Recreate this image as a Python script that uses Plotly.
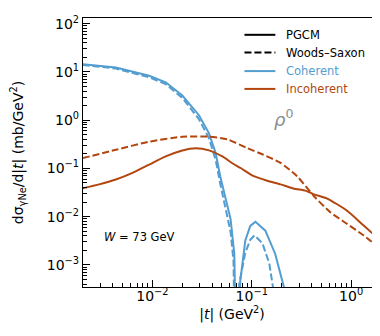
import numpy as np
import plotly.graph_objects as go

# |t| in GeV^2, dsigma/d|t| in mb/GeV^2
t_coh_pgcm = [0.00198, 0.00428, 0.00927, 0.0136, 0.02, 0.0294, 0.0371, 0.0433, 0.0482, 0.0612, 0.0667, 0.0714,
              0.0766, 0.0861, 0.0966, 0.109, 0.137, 0.172, 0.212, 0.244]
s_coh_pgcm = [14.5, 12.4, 8.36, 6.1, 3.25, 1.27, 0.534, 0.208, 0.068, 0.0089, 0.0017, 1e-6,
              4.6e-4, 0.0032, 0.0064, 0.0078, 0.0051, 0.0017, 3.3e-4, 1e-6]

t_coh_ws = [0.00198, 0.00428, 0.00927, 0.0136, 0.02, 0.0294, 0.0371, 0.0433, 0.0482, 0.0612, 0.0655, 0.0687,
            0.0748, 0.0861, 0.0966, 0.1067, 0.128, 0.150, 0.164, 0.180]
s_coh_ws = [14.0, 11.8, 7.8, 5.6, 2.9, 1.05, 0.42, 0.15, 0.048, 0.0048, 0.0012, 1e-6,
            4e-4, 0.0018, 0.0033, 0.0041, 0.0028, 0.00107, 3.3e-4, 1e-6]

t_inc_pgcm = [0.00198, 0.00291, 0.00428, 0.0063, 0.00927, 0.0136, 0.02, 0.0272, 0.0371, 0.0506, 0.0637, 0.0771,
              0.105, 0.143, 0.195, 0.265, 0.347, 0.421, 0.574, 0.912, 1.34, 1.97]
s_inc_pgcm = [0.0386, 0.0466, 0.0589, 0.0809, 0.120, 0.177, 0.235, 0.263, 0.237, 0.177, 0.128, 0.102,
              0.0689, 0.0555, 0.0466, 0.038, 0.0346, 0.029, 0.0237, 0.0132, 0.00651, 0.0032]

t_inc_ws = [0.00198, 0.00428, 0.00927, 0.02, 0.0371, 0.0567, 0.0902, 0.131, 0.195, 0.286, 0.421, 0.62,
            0.912, 1.34, 1.97]
s_inc_ws = [0.163, 0.243, 0.359, 0.455, 0.455, 0.402, 0.263, 0.192, 0.130, 0.0689, 0.0268, 0.01225,
            0.00705, 0.00406, 0.00217]

legend_names = ["PGCM", "Woods\u2013Saxon", "Coherent", "Incoherent"]

blue = "#539dd0"
orange = "#b3460f"
font = "DejaVu Sans"

x_major = [0.01, 0.1, 1]
x_labels = ["10<sup>\u22122</sup>", "10<sup>\u22121</sup>", "10<sup>0</sup>"]
y_major = [1e-3, 1e-2, 1e-1, 1, 10, 100]
y_labels = ["10<sup>\u22123</sup>", "10<sup>\u22122</sup>", "10<sup>\u22121</sup>",
            "10<sup>0</sup>", "10<sup>1</sup>", "10<sup>2</sup>"]
x_minor = [m * 10.0 ** k for k in (-3, -2, -1, 0) for m in range(2, 10)]
y_minor = [m * 10.0 ** k for k in (-4, -3, -2, -1, 0, 1, 2) for m in range(2, 10)]

dash = "7px,3px"
fig = go.Figure()
fig.add_trace(go.Scatter(x=t_coh_pgcm, y=s_coh_pgcm, mode="lines", line=dict(color=blue, width=2)))
fig.add_trace(go.Scatter(x=t_coh_ws, y=s_coh_ws, mode="lines", line=dict(color=blue, width=2, dash=dash)))
fig.add_trace(go.Scatter(x=t_inc_pgcm, y=s_inc_pgcm, mode="lines",
                         line=dict(color=orange, width=2, shape="spline", smoothing=0.6)))
fig.add_trace(go.Scatter(x=t_inc_ws, y=s_inc_ws, mode="lines",
                         line=dict(color=orange, width=2, dash=dash, shape="spline", smoothing=0.6)))

# legend drawn by hand (matplotlib style: coloured labels, no frame)
leg_styles = [("black", "solid", "black"), ("black", dash, "black"), (blue, "solid", blue), (orange, "solid", orange)]
leg_rows = [0.9375, 0.8713, 0.8026, 0.7364]
for name, (lc, ld, tc), ly in zip(legend_names, leg_styles, leg_rows):
    fig.add_shape(type="line", xref="paper", yref="paper", x0=0.5418, x1=0.6455, y0=ly, y1=ly,
                  line=dict(color=lc, width=2, dash=ld))
    fig.add_annotation(x=0.6756, y=ly, xref="paper", yref="paper", showarrow=False, xanchor="left",
                       yanchor="middle", text=name, font=dict(family=font, size=11.5, color=tc))

axis_common = dict(type="log", showgrid=False, zeroline=False, showline=True, linecolor="black", linewidth=1.3,
                   mirror=True, ticks="inside", ticklen=7, tickwidth=1.2, tickcolor="black",
                   tickfont=dict(family=font, size=14, color="black"))
fig.update_xaxes(**axis_common, range=[np.log10(0.002), np.log10(2)], tickmode="array",
                 tickvals=x_major, ticktext=x_labels, ticklabelstandoff=-4,
                 minor=dict(tickmode="array", tickvals=x_minor, ticks="inside", ticklen=4, tickwidth=1, tickcolor="black"),
                 title=dict(text="|<i>t</i>| (GeV<sup>2</sup>)", standoff=0,
                            font=dict(family=font, size=14, color="black")))
fig.update_yaxes(**axis_common, range=[-3.46, 2.12], tickmode="array",
                 tickvals=y_major, ticktext=y_labels,
                 minor=dict(tickmode="array", tickvals=y_minor, ticks="inside", ticklen=4, tickwidth=1, tickcolor="black"),
                 title=dict(text="d\u03c3<sub>\u03b3Ne</sub>/d|<i>t</i>| (mb/GeV<sup>2</sup>)", standoff=22,
                            font=dict(family=font, size=14, color="black")))

fig.add_annotation(x=0.672, y=0.68, xref="paper", yref="paper", showarrow=False, xanchor="center",
                   text="<i>\u03c1</i><sup>0</sup>", font=dict(family=font, size=18, color="#8c8c8c"))
fig.add_annotation(x=0.19, y=0.154, xref="paper", yref="paper", showarrow=False, xanchor="center",
                   text="<i>W</i> = 73 GeV", font=dict(family=font, size=11.5, color="black"))

fig.update_layout(
    width=380, height=336,
    margin=dict(l=75, r=6, t=7, b=57),
    plot_bgcolor="white", paper_bgcolor="white",
    showlegend=False,
)

fig.write_html("out.html")
